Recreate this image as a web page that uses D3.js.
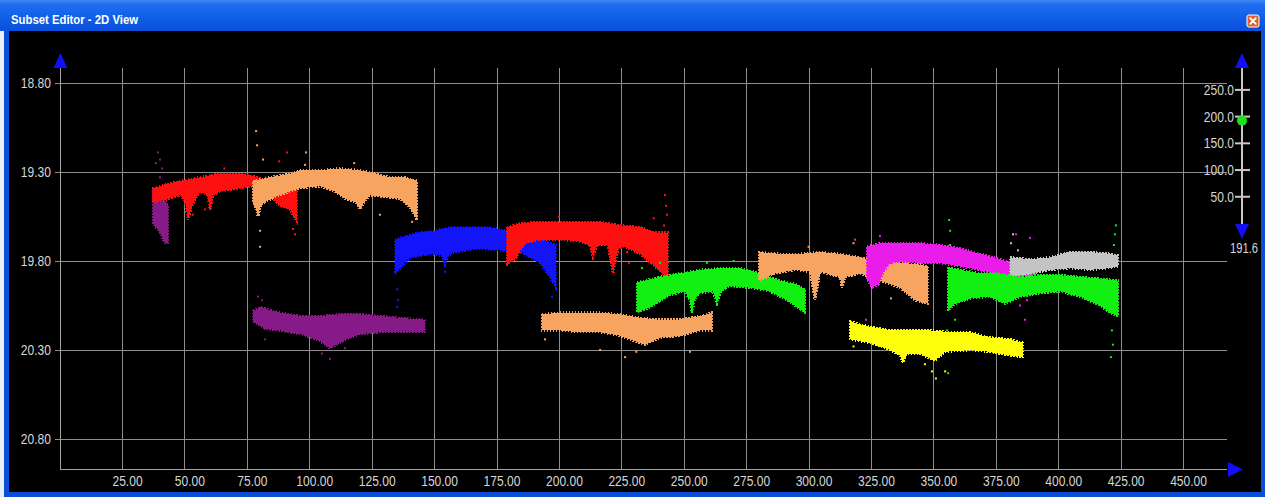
<!DOCTYPE html>
<html>
<head>
<meta charset="utf-8">
<script src="https://cdn.jsdelivr.net/npm/d3@7/dist/d3.min.js"></script>
<style>
  html, body { margin: 0; padding: 0; background: #ffffff; overflow: hidden; }
  svg { display: block; }
  .lbl { font-family: "Liberation Sans", Arial, sans-serif; font-size: 14px; fill: #d6d6d6; }
</style>
</head>
<body>
<svg id="chart" width="1265" height="497"></svg>
<script>
// ---- axes ----
const X_TICKS = [25, 50, 75, 100, 125, 150, 175, 200, 225, 250, 275, 300, 325, 350, 375, 400, 425, 450];
const Y_TICKS = [18.8, 19.3, 19.8, 20.3, 20.8];
const SLIDER_TICKS = [50, 100, 150, 200, 250];
const SLIDER_VALUE = 191.6;

// ---- subsets: upper edge, lower edge and stray points, [x, depth] ----
const purpleA_top = [[37.4, 19.40], [40.2, 19.41], [42.2, 19.46], [43.4, 19.49]];
const purpleA_bottom = [[37.4, 19.59], [40.2, 19.64], [42.2, 19.70], [43.4, 19.70]];
const purpleA_dots = [[39.4, 19.19], [40.2, 19.23], [41.0, 19.28], [40.2, 19.33], [38.6, 19.25]];

const redA_top = [[37.4, 19.39], [40.2, 19.38], [48.2, 19.35], [56.2, 19.33], [64.3, 19.31], [72.3, 19.31], [76.3, 19.32], [84.3, 19.35], [95.1, 19.37]];
const redA_bottom = [[37.4, 19.47], [44.2, 19.45], [48.2, 19.43], [50.2, 19.46], [51.4, 19.57], [53.0, 19.49], [56.2, 19.41], [59.1, 19.43], [60.3, 19.51], [61.4, 19.43], [64.3, 19.41], [68.3, 19.40], [72.3, 19.39], [76.3, 19.38], [84.3, 19.43], [88.3, 19.49], [92.3, 19.51], [95.1, 19.58]];
const redA_dots = [[91.1, 19.19], [87.9, 19.24], [53.4, 19.54], [58.2, 19.51], [94.3, 19.65], [93.5, 19.62], [66.0, 19.28]];

const orangeA_top = [[77.5, 19.35], [84.3, 19.33], [92.3, 19.31], [96.3, 19.29], [104.3, 19.29], [112.3, 19.28], [120.3, 19.29], [126.3, 19.31], [132.3, 19.33], [138.4, 19.33], [143.2, 19.35]];
const orangeA_bottom = [[77.5, 19.47], [78.7, 19.51], [79.5, 19.55], [80.7, 19.48], [82.3, 19.47], [86.3, 19.44], [88.3, 19.43], [96.3, 19.39], [104.3, 19.38], [110.3, 19.41], [114.3, 19.45], [118.7, 19.47], [120.3, 19.51], [121.9, 19.47], [124.3, 19.43], [130.3, 19.44], [136.4, 19.45], [140.4, 19.50], [143.2, 19.57]];
const orangeA_dots = [[78.7, 19.07], [79.1, 19.15], [81.5, 19.23], [80.3, 19.63], [80.3, 19.72], [98.7, 19.19], [98.3, 19.26], [128.3, 19.54], [141.2, 19.58], [118.0, 19.25]];

const blueA_top = [[134.4, 19.68], [136.4, 19.67], [144.4, 19.64], [150.4, 19.63], [156.4, 19.61], [164.4, 19.61], [172.4, 19.61], [178.4, 19.63], [184.4, 19.67], [192.4, 19.68], [198.8, 19.71]];
const blueA_bottom = [[134.4, 19.87], [136.4, 19.84], [140.4, 19.78], [148.4, 19.76], [153.2, 19.77], [154.4, 19.82], [155.6, 19.77], [158.4, 19.75], [166.4, 19.73], [176.4, 19.74], [184.4, 19.75], [192.4, 19.81], [196.4, 19.89], [198.8, 19.95]];
const blueA_dots = [[135.2, 19.96], [135.2, 20.06], [135.6, 20.02], [197.2, 20.00], [154.4, 19.86]];

const redB_top = [[179.2, 19.61], [184.4, 19.59], [192.4, 19.58], [200.4, 19.58], [208.5, 19.58], [216.5, 19.58], [224.5, 19.60], [232.5, 19.61], [238.5, 19.64], [243.7, 19.64]];
const redB_bottom = [[179.2, 19.82], [182.4, 19.79], [186.4, 19.70], [192.4, 19.68], [200.4, 19.68], [208.5, 19.69], [212.5, 19.71], [213.7, 19.78], [215.3, 19.71], [219.7, 19.71], [221.7, 19.87], [223.7, 19.73], [226.5, 19.72], [232.5, 19.76], [238.5, 19.83], [243.7, 19.90]];
const redB_dots = [[242.5, 19.43], [242.9, 19.49], [243.3, 19.54], [242.1, 19.60], [227.3, 19.75], [228.1, 19.81], [200.0, 19.55], [238.0, 19.56]];

const greenA_top = [[231.3, 19.92], [234.5, 19.91], [240.5, 19.89], [248.5, 19.87], [256.5, 19.85], [264.5, 19.84], [272.5, 19.84], [280.5, 19.87], [288.6, 19.91], [294.6, 19.93], [298.6, 19.96]];
const greenA_bottom = [[231.3, 20.09], [236.5, 20.06], [244.5, 19.99], [250.5, 19.97], [252.5, 20.02], [253.3, 20.09], [254.5, 20.01], [256.5, 19.98], [261.7, 19.97], [263.3, 20.04], [265.0, 19.97], [268.5, 19.94], [276.5, 19.95], [284.5, 19.97], [292.6, 20.03], [298.6, 20.09]];
const greenA_dots = [[240.5, 19.81], [259.3, 19.81], [233.3, 19.84], [270.0, 19.80]];

const orangeB_top = [[193.2, 20.10], [200.4, 20.09], [208.5, 20.09], [216.5, 20.09], [224.5, 20.10], [232.5, 20.12], [240.5, 20.13], [248.5, 20.13], [256.5, 20.11], [261.3, 20.09]];
const orangeB_bottom = [[193.2, 20.19], [200.4, 20.19], [208.5, 20.20], [216.5, 20.20], [224.5, 20.22], [228.5, 20.24], [234.5, 20.27], [240.5, 20.23], [248.5, 20.22], [256.5, 20.19], [261.3, 20.19]];
const orangeB_dots = [[226.5, 20.34], [252.5, 20.31], [216.5, 20.30], [194.4, 20.24], [231.0, 20.31]];

const orangeC_top = [[280.1, 19.75], [288.6, 19.76], [296.6, 19.76], [304.6, 19.75], [312.6, 19.76], [320.6, 19.78], [328.6, 19.81], [336.6, 19.81], [344.6, 19.82], [347.8, 19.83]];
const orangeC_bottom = [[280.1, 19.91], [286.6, 19.87], [294.6, 19.85], [300.6, 19.86], [302.6, 20.02], [304.6, 19.86], [312.6, 19.89], [313.4, 19.95], [314.6, 19.89], [320.6, 19.87], [328.6, 19.91], [336.6, 19.95], [342.6, 20.02], [347.8, 20.04]];
const orangeC_dots = [[300.0, 19.72], [318.0, 19.70], [333.0, 20.01]];

const magentaA_top = [[323.4, 19.72], [328.6, 19.70], [336.6, 19.70], [344.6, 19.70], [352.6, 19.71], [360.7, 19.73], [368.7, 19.76], [376.7, 19.79], [380.7, 19.81], [384.7, 19.82], [390.7, 19.83]];
const magentaA_bottom = [[323.4, 19.90], [325.5, 19.95], [328.0, 19.93], [330.0, 19.86], [332.6, 19.81], [336.6, 19.80], [344.6, 19.81], [352.6, 19.81], [360.7, 19.83], [368.7, 19.85], [376.7, 19.88], [384.7, 19.89], [390.7, 19.88]];
const magentaA_dots = [[318.6, 19.68], [328.6, 19.66], [383.1, 19.65], [388.7, 19.67], [385.5, 19.96], [387.5, 20.02], [386.7, 20.13], [384.7, 20.05], [323.0, 20.13], [389.5, 19.98]];

const silverA_top = [[380.7, 19.78], [388.7, 19.79], [396.7, 19.78], [404.7, 19.75], [412.7, 19.75], [420.7, 19.76], [424.0, 19.77]];
const silverA_bottom = [[380.7, 19.89], [388.7, 19.87], [396.7, 19.85], [404.7, 19.84], [412.7, 19.85], [420.7, 19.84], [424.0, 19.83]];
const silverA_dots = [[381.9, 19.65], [383.9, 19.74], [381.1, 19.70]];

const greenB_top = [[355.9, 19.84], [360.7, 19.85], [368.7, 19.87], [376.7, 19.87], [384.7, 19.89], [392.7, 19.88], [400.7, 19.88], [408.7, 19.89], [416.7, 19.90], [424.0, 19.91]];
const greenB_bottom = [[355.9, 20.08], [358.7, 20.04], [364.7, 20.01], [372.7, 20.00], [378.7, 20.04], [384.7, 20.00], [392.7, 19.98], [400.7, 19.97], [408.7, 20.00], [416.7, 20.05], [420.7, 20.09], [424.0, 20.11]];
const greenB_dots = [[356.3, 19.57], [356.7, 19.63], [356.7, 19.71], [355.5, 20.19], [358.7, 20.13], [421.5, 20.19], [421.9, 20.27], [421.1, 20.34], [423.1, 19.60], [422.7, 19.65], [422.3, 19.71], [355.9, 20.43]];

const yellowA_top = [[316.6, 20.14], [324.6, 20.17], [332.6, 20.19], [340.6, 20.19], [348.6, 20.19], [356.7, 20.20], [364.7, 20.20], [372.7, 20.23], [380.7, 20.24], [385.9, 20.26]];
const yellowA_bottom = [[316.6, 20.24], [324.6, 20.26], [332.6, 20.30], [336.6, 20.33], [337.8, 20.37], [339.4, 20.32], [344.6, 20.32], [350.6, 20.36], [354.7, 20.31], [364.7, 20.30], [372.7, 20.31], [380.7, 20.33], [385.9, 20.34]];
const yellowA_dots = [[349.4, 20.42], [346.6, 20.38], [354.7, 20.42], [351.0, 20.46], [318.0, 20.28]];

const purpleB_top = [[77.5, 20.08], [80.3, 20.06], [88.3, 20.09], [96.3, 20.11], [104.3, 20.11], [112.3, 20.10], [120.3, 20.10], [128.3, 20.11], [136.4, 20.12], [146.4, 20.13]];
const purpleB_bottom = [[77.5, 20.14], [82.3, 20.18], [88.3, 20.19], [96.3, 20.21], [100.3, 20.23], [104.3, 20.25], [108.3, 20.29], [112.3, 20.26], [116.3, 20.23], [120.3, 20.21], [128.3, 20.20], [136.4, 20.20], [146.4, 20.20]];
const purpleB_dots = [[79.5, 20.00], [81.1, 20.02], [82.3, 20.24], [108.3, 20.35], [105.1, 20.32], [114.3, 20.29]];

// drawing order (later subsets paint over earlier ones)
const subsets = [
  { top: purpleA_top, bottom: purpleA_bottom, dots: purpleA_dots, color: "#861a86" },
  { top: redA_top, bottom: redA_bottom, dots: redA_dots, color: "#ff1010" },
  { top: orangeA_top, bottom: orangeA_bottom, dots: orangeA_dots, color: "#f7a460" },
  { top: purpleB_top, bottom: purpleB_bottom, dots: purpleB_dots, color: "#861a86" },
  { top: blueA_top, bottom: blueA_bottom, dots: blueA_dots, color: "#1414fa" },
  { top: redB_top, bottom: redB_bottom, dots: redB_dots, color: "#ff1010" },
  { top: orangeB_top, bottom: orangeB_bottom, dots: orangeB_dots, color: "#f7a460" },
  { top: greenA_top, bottom: greenA_bottom, dots: greenA_dots, color: "#12f012" },
  { top: orangeC_top, bottom: orangeC_bottom, dots: orangeC_dots, color: "#f7a460" },
  { top: magentaA_top, bottom: magentaA_bottom, dots: magentaA_dots, color: "#ea1cea" },
  { top: silverA_top, bottom: silverA_bottom, dots: silverA_dots, color: "#c4c4c4" },
  { top: greenB_top, bottom: greenB_bottom, dots: greenB_dots, color: "#12f012" },
  { top: yellowA_top, bottom: yellowA_bottom, dots: yellowA_dots, color: "#ffff0a" }
];

const svg = d3.select("#chart");
const W = 1265, H = 497;

// ---- window frame ----
const defs = svg.append("defs");
const tg = defs.append("linearGradient").attr("id", "titleGrad").attr("x1", 0).attr("y1", 0).attr("x2", 0).attr("y2", 1);
tg.append("stop").attr("offset", "0%").attr("stop-color", "#3d86f5");
tg.append("stop").attr("offset", "15%").attr("stop-color", "#1f6ef0");
tg.append("stop").attr("offset", "60%").attr("stop-color", "#0f5de6");
tg.append("stop").attr("offset", "100%").attr("stop-color", "#0b4fd8");

svg.append("rect").attr("x", 0).attr("y", 0).attr("width", W).attr("height", H).attr("fill", "#0b4ed6");
svg.append("rect").attr("x", 0).attr("y", 0).attr("width", W).attr("height", 31).attr("fill", "url(#titleGrad)");
svg.append("rect").attr("x", 0).attr("y", 31).attr("width", 4).attr("height", H - 31).attr("fill", "#e8eef8");
svg.append("rect").attr("x", 4).attr("y", 31).attr("width", 5).attr("height", H - 31).attr("fill", "#0b4ed6");
svg.append("rect").attr("x", 9).attr("y", 31).attr("width", 1252).attr("height", 461).attr("fill", "#000000");

svg.append("text")
  .attr("x", 11).attr("y", 24)
  .attr("font-family", "Liberation Sans, Arial, sans-serif")
  .attr("font-weight", "bold").attr("font-size", 12.5)
  .attr("fill", "#ffffff")
  .attr("textLength", 127).attr("lengthAdjust", "spacingAndGlyphs")
  .text("Subset Editor - 2D View");

// close button
const cb = svg.append("g").attr("transform", "translate(1247,15)");
cb.append("rect").attr("width", 12).attr("height", 12).attr("rx", 2)
  .attr("fill", "#e0622f").attr("stroke", "#ffffff").attr("stroke-width", 1);
cb.append("path").attr("d", "M3.2,3.2L8.8,8.8M8.8,3.2L3.2,8.8")
  .attr("stroke", "#ffffff").attr("stroke-width", 1.8).attr("stroke-linecap", "round");

// ---- plot scales ----
const x = d3.scaleLinear().domain([0, 467.6]).range([59.6, 1227]);
const y = d3.scaleLinear().domain([18.8, 20.8]).range([83, 439]);
const plotTop = 68, axisY = 469;

const grid = svg.append("g").attr("stroke", "#8e8e8e").attr("stroke-width", 1).attr("shape-rendering", "crispEdges");
grid.selectAll("line.v").data(X_TICKS).join("line")
  .attr("x1", d => Math.round(x(d)) + 0.5).attr("x2", d => Math.round(x(d)) + 0.5)
  .attr("y1", plotTop).attr("y2", axisY);
grid.selectAll("line.h").data(Y_TICKS).join("line")
  .attr("x1", 55).attr("x2", x.range()[1])
  .attr("y1", d => Math.round(y(d)) + 0.5).attr("y2", d => Math.round(y(d)) + 0.5);

// ---- subsets ----
const edge = d3.line().x(d => x(d[0])).y(d => y(d[1]));
const marks = svg.append("g");
subsets.forEach(s => {
  const ring = s.top.concat(s.bottom.slice().reverse());
  marks.append("path")
    .attr("d", edge(ring) + "Z")
    .attr("fill", s.color)
    .attr("stroke", s.color)
    .attr("stroke-width", 2.5)
    .attr("stroke-dasharray", "1.5 1.5")
    .attr("shape-rendering", "crispEdges");
  marks.selectAll(null).data(s.dots).join("rect")
    .attr("x", d => x(d[0]) - 1).attr("y", d => y(d[1]) - 1)
    .attr("width", 2).attr("height", 2)
    .attr("fill", s.color);
});

// ---- axes ----
const axisLines = svg.append("g").attr("stroke", "#a4a4a4").attr("stroke-width", 1).attr("shape-rendering", "crispEdges");
axisLines.append("line").attr("x1", 60.5).attr("x2", 60.5).attr("y1", plotTop).attr("y2", axisY + 0.5);
axisLines.append("line").attr("x1", 60.5).attr("x2", x.range()[1]).attr("y1", axisY + 0.5).attr("y2", axisY + 0.5);

svg.append("path").attr("d", "M60.5,53L67.5,68L53.5,68Z").attr("fill", "#1010f0");
svg.append("path").attr("d", "M1243,469.5L1228,462L1228,477Z").attr("fill", "#1010f0");

const xAxis = d3.axisBottom(x).tickValues(X_TICKS).tickFormat(d3.format(".2f")).tickSize(0).tickPadding(0);
const gx = svg.append("g").attr("transform", `translate(0,${axisY})`).call(xAxis);
gx.select(".domain").remove();
gx.selectAll("text").attr("class", "lbl")
  .attr("x", 5).attr("y", 13).attr("dy", "0.32em")
  .attr("font-family", null).attr("font-size", null).attr("fill", null)
  .each(function () { const w = this.getComputedTextLength(); d3.select(this).attr("textLength", w * 0.86).attr("lengthAdjust", "spacingAndGlyphs"); });

const yAxis = d3.axisLeft(y).tickValues(Y_TICKS).tickFormat(d3.format(".2f")).tickSize(0).tickPadding(0);
const gy = svg.append("g").attr("transform", "translate(51,0)").call(yAxis);
gy.select(".domain").remove();
gy.selectAll("text").attr("class", "lbl")
  .attr("x", 0).attr("dy", "0.35em")
  .attr("font-family", null).attr("font-size", null).attr("fill", null)
  .each(function () { const w = this.getComputedTextLength(); d3.select(this).attr("textLength", w * 0.86).attr("lengthAdjust", "spacingAndGlyphs"); });

// ---- depth slider on the right ----
const s = d3.scaleLinear().domain([0, 290]).range([223, 68]);
const sx = 1242;
svg.append("line").attr("x1", sx).attr("x2", sx).attr("y1", 66).attr("y2", 226)
  .attr("stroke", "#c8c8c8").attr("stroke-width", 2);
svg.append("path").attr("d", `M${sx},53L${sx + 7},68L${sx - 7},68Z`).attr("fill", "#1010f0");
svg.append("path").attr("d", `M${sx},239L${sx + 7},224L${sx - 7},224Z`).attr("fill", "#1010f0");
const sAxis = d3.axisRight(s).tickValues(SLIDER_TICKS).tickFormat(d3.format(".1f")).tickSize(0).tickPadding(0);
const gs = svg.append("g").call(sAxis);
gs.select(".domain").remove();
gs.selectAll(".tick line").remove();
gs.selectAll(".tick").append("line")
  .attr("x1", sx - 7).attr("x2", sx + 8).attr("y1", 0).attr("y2", 0)
  .attr("stroke", "#c8c8c8").attr("stroke-width", 2);
gs.selectAll("text").attr("class", "lbl")
  .attr("x", 1234).attr("dy", "0.35em").attr("text-anchor", "end")
  .attr("font-family", null).attr("font-size", null).attr("fill", null)
  .each(function () { const w = this.getComputedTextLength(); d3.select(this).attr("textLength", w * 0.86).attr("lengthAdjust", "spacingAndGlyphs"); });

svg.append("circle").attr("cx", sx).attr("cy", s(SLIDER_VALUE)).attr("r", 5).attr("fill", "#1ee01e");
svg.append("text").attr("class", "lbl")
  .attr("x", 1258).attr("y", 248).attr("dy", "0.35em").attr("text-anchor", "end")
  .text(d3.format(".1f")(SLIDER_VALUE))
  .each(function () { const w = this.getComputedTextLength(); d3.select(this).attr("textLength", w * 0.8).attr("lengthAdjust", "spacingAndGlyphs"); });
</script>
</body>
</html>
